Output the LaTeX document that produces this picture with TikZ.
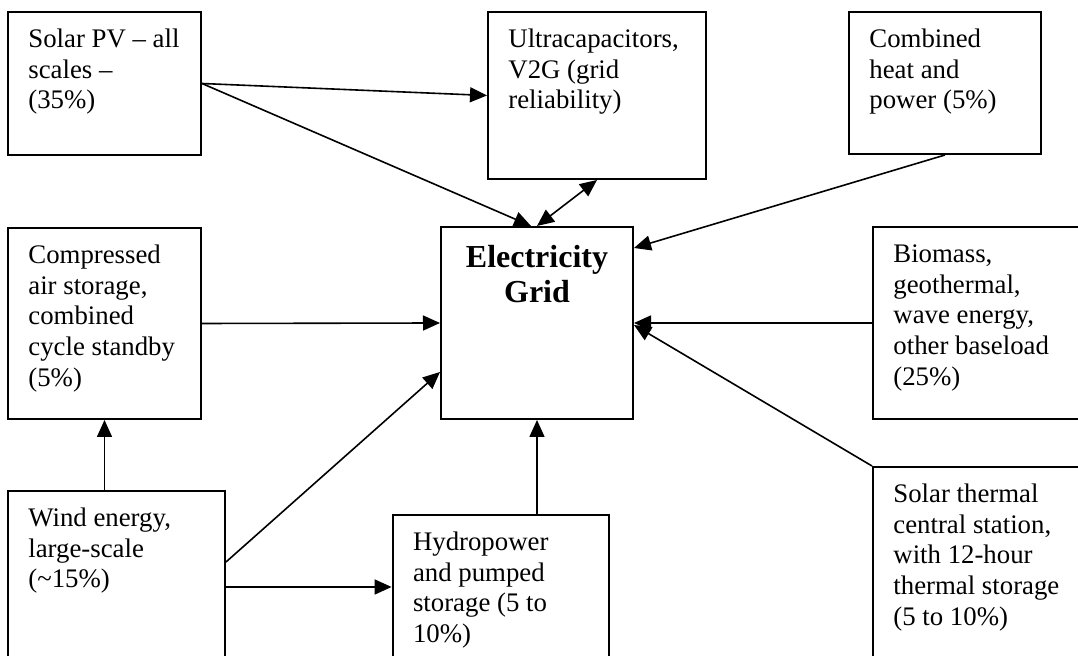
\documentclass[tikz,border=0pt]{standalone}
\usepackage{fontspec}
\setmainfont{Liberation Serif}
\usetikzlibrary{arrows.meta,calc}
\begin{document}
\begin{tikzpicture}[x=0.5pt,y=-0.5pt,
  box/.style={draw, line width=1pt, rectangle, inner sep=0pt},
  txt/.style={anchor=north west, inner sep=0pt, align=left, font=\fontsize{13.4pt}{15.4pt}\selectfont},
  gtxt/.style={anchor=north, inner sep=0pt, align=center, font=\fontsize{16pt}{17.8pt}\selectfont\bfseries},
  conn/.style={line width=0.8pt, -{Triangle[length=8.5pt,width=7.5pt]}},
  dconn/.style={line width=0.8pt, {Triangle[length=8.5pt,width=7.5pt]}-{Triangle[length=8.5pt,width=7.5pt]}}]
\useasboundingbox (0,0) rectangle (1078,656);
\clip (0,0) rectangle (1078,656);
\fill[white] (0,0) rectangle (1078,656);
% boxes
\node[box, minimum width=96.5pt, minimum height=71.5pt] (pv) at (104.5,83.5) {};
\node[box, minimum width=109pt, minimum height=83.5pt] (uc) at (597,95.5) {};
\node[box, minimum width=96pt, minimum height=71pt] (chp) at (945,83) {};
\node[box, minimum width=96pt, minimum height=96pt] (grid) at (537,323) {};
\node[box, minimum width=96.5pt, minimum height=95.5pt] (cas) at (104.5,323.5) {};
\node[box, minimum width=113.5pt, minimum height=96pt] (bio) at (986.5,323) {};
\node[box, minimum width=108.5pt, minimum height=94.5pt] (wind) at (116.5,585.5) {};
\node[box, minimum width=108.2pt, minimum height=82.5pt] (hydro) at (500.8,597.5) {};
\node[box, minimum width=113.5pt, minimum height=106.5pt] (st) at (986.5,573.5) {};
% texts
\node[txt] (pvt) at ($(pv.north west)+(21,14.4)$) {\strut Solar PV – all\\scales –\\(35\%)};
\node[txt] (uct) at ($(uc.north west)+(21,14.4)$) {\strut Ultracapacitors,\\V2G (grid\\reliability)};
\node[txt] (chpt) at ($(chp.north west)+(21,14.4)$) {\strut Combined\\heat and\\power (5\%)};
\node[gtxt] (gridt) at ($(grid.north)+(0,16)$) {\strut Electricity\\Grid};
\node[txt] (cast) at ($(cas.north west)+(21,14.4)$) {\strut Compressed\\air storage,\\combined\\cycle standby\\(5\%)};
\node[txt] (biot) at ($(bio.north west)+(21,14.4)$) {\strut Biomass,\\geothermal,\\wave energy,\\other baseload\\(25\%)};
\node[txt] (windt) at ($(wind.north west)+(21,14.4)$) {\strut Wind energy,\\large-scale\\(\textasciitilde15\%)};
\node[txt] (hydrot) at ($(hydro.north west)+(21,14.4)$) {\strut Hydropower\\and pumped\\storage (5 to\\10\%)};
\node[txt] (stt) at ($(st.north west)+(21,14.4)$) {\strut Solar thermal\\central station,\\with 12-hour\\thermal storage\\(5 to 10\%)};
% connectors
\coordinate (gtop1) at ($(grid.north)+(-6,0)$);
\coordinate (grightA) at ($(grid.north east)+(0,22)$);
\coordinate (windA) at ($(wind.north east)+(0,72)$);
\coordinate (gleftA) at ($(grid.north west)+(0,146)$);
\coordinate (windB) at ($(wind.north east)+(0,97)$);
\draw[conn] (pv.east) -- (uc.west);
\draw[conn] (pv.east) -- (gtop1);
\draw[dconn] (uc.south) -- (grid.north);
\draw[conn] (chp.south) -- (grightA);
\draw[conn] (bio.west) -- (grid.east);
\draw[conn] (st.north west) -- ($(grid.east)+(0,2)$);
\draw[conn] (cas.east) -- (grid.west);
\draw[conn] (cas.south |- wind.north) -- (cas.south);
\draw[conn] (windA) -- (gleftA);
\draw[conn] (windB) -- (hydro.west |- windB);
\draw[conn] (grid.south |- hydro.north) -- (grid.south);
\end{tikzpicture}
\end{document}
